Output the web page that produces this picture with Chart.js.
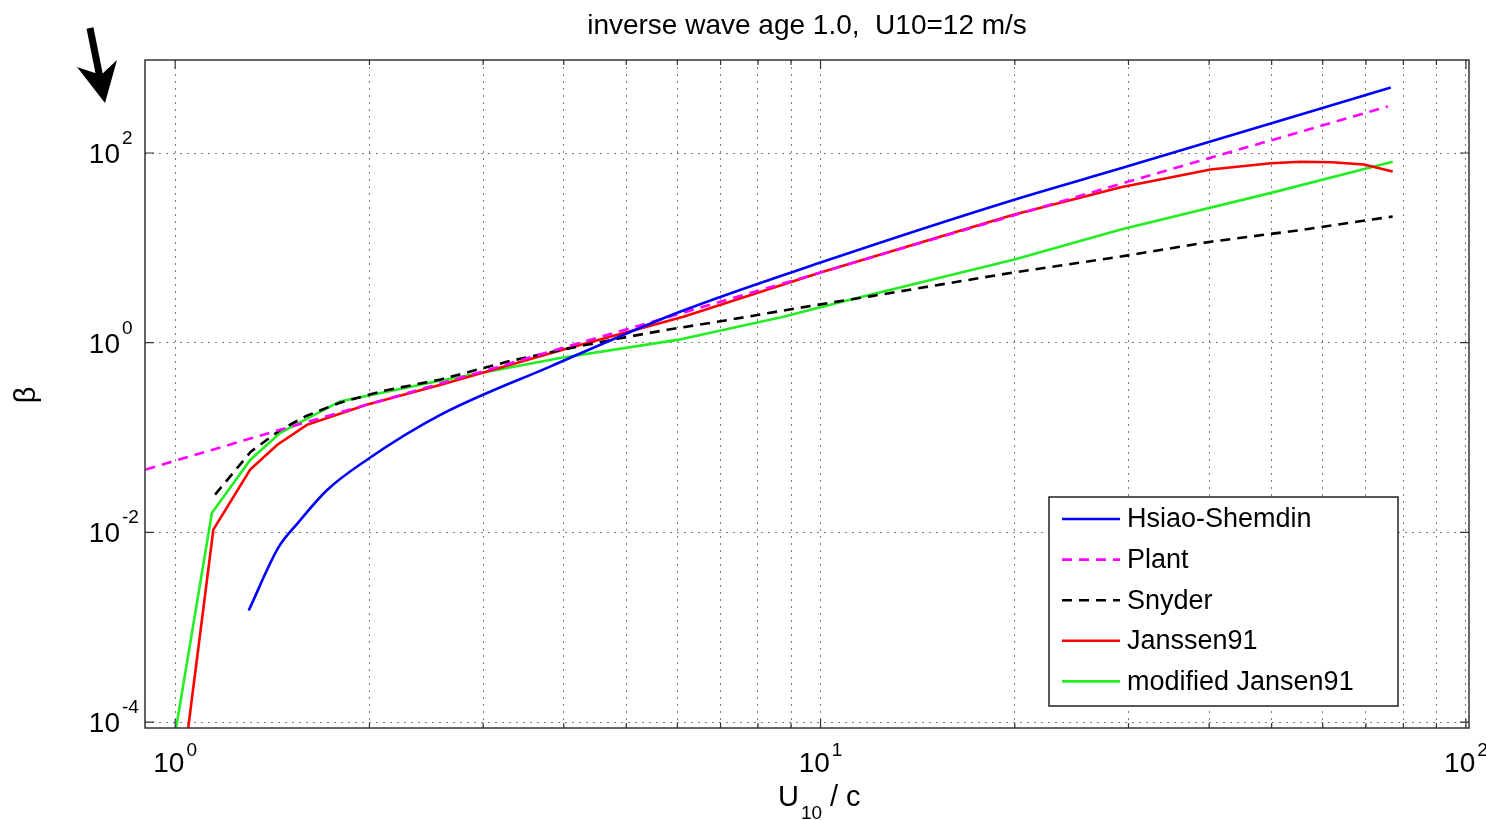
<!DOCTYPE html>
<html>
<head>
<meta charset="utf-8">
<script src="https://cdn.jsdelivr.net/npm/chart.js@4.4.1/dist/chart.umd.min.js"></script>
<style>
  html, body { margin: 0; padding: 0; background: #fff; }
</style>
</head>
<body>
<canvas id="chartBeta" width="1486" height="820"></canvas>
<script>
const FONT = '"Liberation Sans", Arial, Helvetica, sans-serif';
const TITLE = "inverse wave age 1.0,  U10=12 m/s";

// axis ticks (value grid) and labelled decades
const xTicks = [1, 2, 3, 4, 5, 6, 7, 8, 9, 10, 20, 30, 40, 50, 60, 70, 80, 90, 100];
const xLabelExp = [0, 1, 2];
const yTicks = [1e-4, 1e-2, 1, 100];
const yLabelExp = [-4, -2, 0, 2];

// Hsiao-Shemdin
const hsiaoX = [1.30, 1.445, 1.55, 1.72, 1.98, 2.58, 3.81, 6.0, 10, 19.9, 29.2, 76.5];
const hsiaoY = [0.0015, 0.0069, 0.0126, 0.028, 0.058, 0.174, 0.56, 2.07, 7.0, 32, 69, 490];

// Plant
const plantX = [0.9, 1.455, 3.0, 10, 30, 75.7];
const plantY = [0.046, 0.121, 0.5, 5.5, 50, 310];

// Snyder
const snyderX = [1.153, 1.31, 1.455, 1.6, 1.8, 2.1, 2.58, 3.3, 4.0, 4.84, 5.79, 6.92, 9.3, 12, 15, 19.9, 29.2, 40.2, 55, 77];
const snyderY = [0.025, 0.071, 0.12, 0.17, 0.233, 0.31, 0.41, 0.64, 0.85, 1.1, 1.37, 1.66, 2.34, 3.1, 4.0, 5.5, 8.1, 11.6, 15.3, 21.4];

// Janssen91
const janssenX = [1.037, 1.146, 1.307, 1.44, 1.60, 1.98, 2.58, 4.1, 6.13, 10, 19.9, 29.2, 40.2, 49.9, 55.5, 62, 69.5, 77];
const janssenY = [5e-5, 0.0107, 0.046, 0.084, 0.136, 0.222, 0.36, 0.89, 1.88, 5.5, 22.4, 43.5, 67, 78, 81, 80, 75.6, 64];

// modified Jansen91
const modX = [0.99, 1.14, 1.307, 1.455, 1.80, 2.58, 3.95, 6.0, 8.76, 11.1, 19.9, 29.2, 49.9, 77];
const modY = [5e-5, 0.016, 0.058, 0.112, 0.24, 0.40, 0.69, 1.07, 1.88, 2.84, 7.5, 15.6, 38, 81];

const pts = (xs, ys) => xs.map((x, i) => ({ x, y: ys[i] }));

function series(label, xs, ys, color, dash, smooth) {
  return {
    label,
    data: pts(xs, ys),
    borderColor: color,
    backgroundColor: color,
    borderWidth: 2.6,
    borderDash: dash || [],
    pointRadius: 0,
    tension: 0,
    cubicInterpolationMode: smooth ? "monotone" : "default",
    fill: false,
  };
}

const matlabPlugin = {
  id: "matlabDecor",
  afterDraw(chart) {
    const { ctx, chartArea: a, scales } = chart;
    const sx = scales.x, sy = scales.y;
    ctx.save();

    // frame
    ctx.strokeStyle = "#333";
    ctx.lineWidth = 1.5;
    ctx.setLineDash([]);
    ctx.strokeRect(a.left, a.top, a.right - a.left, a.bottom - a.top);

    // inward ticks
    ctx.lineWidth = 1.2;
    xTicks.forEach((v) => {
      const px = sx.getPixelForValue(v);
      const len = [1, 10, 100].includes(v) ? 9 : 5;
      ctx.beginPath();
      ctx.moveTo(px, a.bottom); ctx.lineTo(px, a.bottom - len);
      ctx.moveTo(px, a.top); ctx.lineTo(px, a.top + len);
      ctx.stroke();
    });
    yTicks.forEach((v) => {
      const py = sy.getPixelForValue(v);
      ctx.beginPath();
      ctx.moveTo(a.left, py); ctx.lineTo(a.left + 9, py);
      ctx.moveTo(a.right, py); ctx.lineTo(a.right - 9, py);
      ctx.stroke();
    });

    // title, centred over the axes box
    ctx.fillStyle = "#000";
    ctx.textBaseline = "alphabetic";
    ctx.textAlign = "center";
    ctx.font = `28px ${FONT}`;
    ctx.fillText(TITLE, (a.left + a.right) / 2, 34);

    // tick labels 10^n
    const base = `28px ${FONT}`, sup = `19px ${FONT}`;
    xLabelExp.forEach((e) => {
      const px = sx.getPixelForValue(Math.pow(10, e));
      ctx.font = base;
      const wb = ctx.measureText("10").width;
      ctx.font = sup;
      const we = ctx.measureText(String(e)).width;
      const x0 = px - (wb + 2 + we) / 2;
      ctx.font = base; ctx.textAlign = "left";
      ctx.fillText("10", x0, 772);
      ctx.font = sup;
      ctx.fillText(String(e), x0 + wb + 2, 756);
    });
    yLabelExp.forEach((e) => {
      const py = sy.getPixelForValue(Math.pow(10, e));
      ctx.font = base; ctx.textAlign = "right";
      ctx.fillText("10", 120, py + 10);
      ctx.font = sup; ctx.textAlign = "left";
      ctx.fillText(String(e), 122, py - 9);
    });

    // x axis title U10 / c
    ctx.textAlign = "left";
    ctx.font = `29px ${FONT}`;
    ctx.fillText("U", 778, 806);
    ctx.font = `19px ${FONT}`;
    ctx.fillText("10", 801, 819);
    ctx.font = `29px ${FONT}`;
    ctx.fillText("/ c", 830, 806);

    // y axis title
    ctx.save();
    ctx.translate(35, 395);
    ctx.rotate(-Math.PI / 2);
    ctx.textAlign = "center";
    ctx.font = `29px ${FONT}`;
    ctx.fillText("β", 0, 0);
    ctx.restore();

    // arrow
    ctx.strokeStyle = "#000";
    ctx.lineWidth = 7;
    ctx.beginPath();
    ctx.moveTo(90, 28); ctx.lineTo(100, 78);
    ctx.stroke();
    ctx.beginPath();
    ctx.moveTo(77, 67); ctx.lineTo(105, 103); ctx.lineTo(117, 60); ctx.lineTo(101, 75);
    ctx.closePath();
    ctx.fill();

    // legend
    const lx = 1049, ly = 497, lw = 349, lh = 209;
    ctx.fillStyle = "#fff";
    ctx.fillRect(lx, ly, lw, lh);
    ctx.strokeStyle = "#222";
    ctx.lineWidth = 1.5;
    ctx.strokeRect(lx, ly, lw, lh);
    ctx.font = `27px ${FONT}`;
    ctx.textBaseline = "middle";
    chart.data.datasets.forEach((ds, i) => {
      const ry = 519 + i * 40.6;
      ctx.strokeStyle = ds.borderColor;
      ctx.lineWidth = 2.6;
      ctx.setLineDash(ds.borderDash);
      ctx.beginPath();
      ctx.moveTo(1062, ry); ctx.lineTo(1120, ry);
      ctx.stroke();
      ctx.setLineDash([]);
      ctx.fillStyle = "#000";
      ctx.fillText(ds.label, 1127, ry + 1);
    });

    ctx.restore();
  },
};

new Chart(document.getElementById("chartBeta").getContext("2d"), {
  type: "line",
  data: {
    datasets: [
      series("Hsiao-Shemdin", hsiaoX, hsiaoY, "#0000ff", null, true),
      series("Plant", plantX, plantY, "#ff00ff", [10, 7]),
      series("Snyder", snyderX, snyderY, "#000000", [10, 7]),
      series("Janssen91", janssenX, janssenY, "#ff0000"),
      series("modified Jansen91", modX, modY, "#22ee22"),
    ],
  },
  options: {
    responsive: false,
    animation: false,
    devicePixelRatio: 1,
    layout: { padding: { left: 0, right: 17, top: 60, bottom: 0 } },
    scales: {
      x: {
        type: "logarithmic",
        min: 0.898,
        max: 101.1,
        afterBuildTicks: (s) => { s.ticks = xTicks.map((v) => ({ value: v })); },
        afterFit: (s) => { s.height = 92; },
        ticks: { display: false },
        grid: { color: "rgba(0,0,0,0.5)", lineWidth: 1, drawTicks: false },
        border: { display: false, dash: [2, 5] },
      },
      y: {
        type: "logarithmic",
        min: 8.65e-5,
        max: 957,
        afterBuildTicks: (s) => { s.ticks = yTicks.map((v) => ({ value: v })); },
        afterFit: (s) => { s.width = 145; },
        ticks: { display: false },
        grid: { color: "rgba(0,0,0,0.5)", lineWidth: 1, drawTicks: false },
        border: { display: false, dash: [2, 5] },
      },
    },
    plugins: {
      legend: { display: false },
      tooltip: { enabled: false },
      title: { display: false },
    },
  },
  plugins: [matlabPlugin],
});
</script>
</body>
</html>
